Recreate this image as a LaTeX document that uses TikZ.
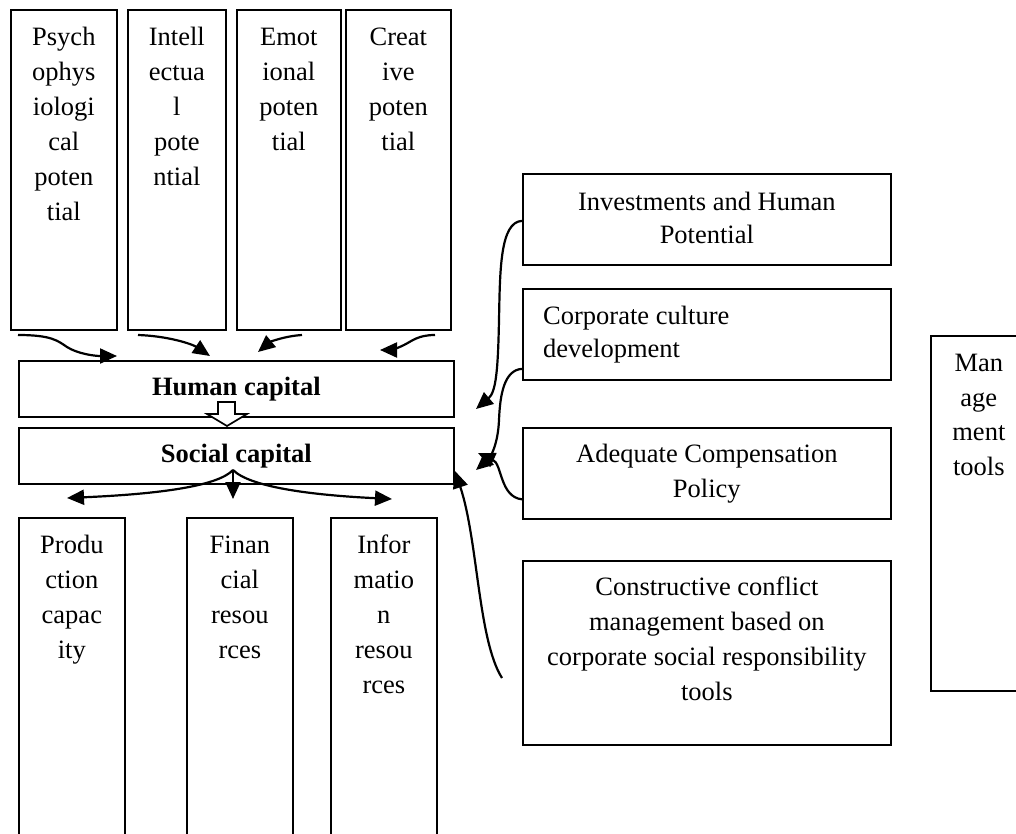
\documentclass[tikz,border=0pt]{standalone}
\usepackage{fontspec}
\setmainfont{Liberation Serif}
\usetikzlibrary{arrows.meta,calc}
\newcommand\myfirst{\rule{0pt}{24pt}}
\begin{document}
\begin{tikzpicture}[x=1pt,y=-1pt,
 box/.style={draw, line width=1.7pt, inner sep=0pt, anchor=north west},
 txt/.style={inner sep=0pt, align=center, anchor=north, font=\fontsize{26.5}{35}\selectfont},
 txtb/.style={inner sep=0pt, align=center, font=\fontsize{26.5}{35}\selectfont\bfseries},
 con/.style={line width=2.2pt, -{Triangle[length=17pt,width=15pt]}},
]
\useasboundingbox (0,0) rectangle (1016,834);
\clip (0,0) rectangle (1016,834);
% top boxes
\node[box, minimum width=106pt, minimum height=320pt] (p1) at (10,9) {};
\node[box, minimum width=98pt, minimum height=320pt] (p2) at (127,9) {};
\node[box, minimum width=104pt, minimum height=320pt] (p3) at (236,9) {};
\node[box, minimum width=105pt, minimum height=320pt] (p4) at (345,9) {};
\node[txt] (p1t) at ($(p1.north)+(0,12)$) {\myfirst Psych\\ophys\\iologi\\cal\\poten\\tial};
\node[txt] (p2t) at ($(p2.north)+(0,12)$) {\myfirst Intell\\ectua\\l\\pote\\ntial};
\node[txt] (p3t) at ($(p3.north)+(0,12)$) {\myfirst Emot\\ional\\poten\\tial};
\node[txt] (p4t) at ($(p4.north)+(0,12)$) {\myfirst Creat\\ive\\poten\\tial};
% capital boxes
\node[box, minimum width=435pt, minimum height=56pt] (hum) at (18,360) {};
\node[txtb] (humt) at (hum.center) {Human capital};
\node[box, minimum width=435pt, minimum height=56pt] (soc) at (18,427) {};
\node[txtb] (soct) at (soc.center) {Social capital};
% bottom boxes
\node[box, minimum width=106pt, minimum height=330pt] (b1) at (18,517) {};
\node[box, minimum width=106pt, minimum height=330pt] (b2) at (186,517) {};
\node[box, minimum width=106pt, minimum height=330pt] (b3) at (330,517) {};
\node[txt] (b1t) at ($(b1.north)+(0,12)$) {\myfirst Produ\\ction\\capac\\ity};
\node[txt] (b2t) at ($(b2.north)+(0,12)$) {\myfirst Finan\\cial\\resou\\rces};
\node[txt] (b3t) at ($(b3.north)+(0,12)$) {\myfirst Infor\\matio\\n\\resou\\rces};
% right boxes
\node[box, minimum width=368pt, minimum height=91pt] (inv) at (522,173) {};
\node[box, minimum width=368pt, minimum height=91pt] (cor) at (522,288) {};
\node[box, minimum width=368pt, minimum height=91pt] (ade) at (522,427) {};
\node[box, minimum width=368pt, minimum height=184pt] (cns) at (522,560) {};
\node[txt, font=\fontsize{26.5}{33}\selectfont] (invt) at ($(inv.north)+(0,13)$) {\myfirst Investments and Human\\Potential};
\node[txt, anchor=north west, align=left, font=\fontsize{26.5}{33}\selectfont] (cort) at ($(cor.north west)+(21,12)$) {\myfirst Corporate culture\\development};
\node[txt] (adet) at ($(ade.north)+(0,11)$) {\myfirst Adequate Compensation\\Policy};
\node[txt] (cnst) at ($(cns.north)+(0,11)$) {\myfirst Constructive conflict\\management based on\\corporate social responsibility\\tools};
% management tools
\node[box, minimum width=96pt, minimum height=355pt] (mgt) at (930,335) {};
\node[txt, font=\fontsize{26.5}{34.5}\selectfont] (mgtt) at ($(mgt.north)+(0,12.5)$) {\myfirst Man\\age\\ment\\tools};
% arrows into human capital
\coordinate (a1s) at (18,335);   \coordinate (a1e) at (117,356);
\coordinate (a2s) at (138,335);  \coordinate (a2e) at (210,356);
\coordinate (a3s) at (302,335);  \coordinate (a3e) at (258,352);
\coordinate (a4s) at (435,335);  \coordinate (a4e) at (380,350);
\draw[con] (a1s) .. controls (52,335) and (58,341) .. (67,347) .. controls (78,354) and (95,356) .. (a1e);
\draw[con] (a2s) .. controls (168,336) and (192,344) .. (a2e);
\draw[con] (a3s) .. controls (285,336) and (270,342) .. (a3e);
\draw[con] (a4s) .. controls (418,335) and (412,341) .. (404,345) .. controls (396,349) and (390,350) .. (a4e);
% hollow arrow human -> social
\draw[line width=1.7pt, fill=white] (218,402) -- (235,402) -- (235,414) -- (247,414) -- (227,426) -- (207,414) -- (218,414) -- cycle;
% arrows from social capital
\coordinate (s0) at (233,470);
\coordinate (o1) at (67,498);
\coordinate (o2) at (233,499);
\coordinate (o3) at (392,499);
\draw[con] (s0) .. controls (218,486) and (160,494) .. (o1);
\draw[con] (s0) -- (o2);
\draw[con] (s0) .. controls (250,487) and (310,495) .. (o3);
% arrows from the right-hand boxes
\coordinate (r1e) at (476,409);
\coordinate (r2e) at (476,470);
\coordinate (r3e) at (478,453);
\coordinate (r4s) at (502,678);
\coordinate (r4e) at (455,471);
\draw[con] ($(inv.west)+(0,1.5)$) .. controls (500,222) and (500,270) .. (499,320) .. controls (498,370) and (496,392) .. (r1e);
\draw[con] ($(cor.west)+(0,34.5)$) .. controls (504,370) and (500,395) .. (499,420) .. controls (498,445) and (490,458) .. (r2e);
\draw[con] ($(ade.west)+(0,26)$) .. controls (500,497) and (502,464) .. (r3e);
\draw[con] (r4s) .. controls (478,640) and (478,540) .. (r4e);
\end{tikzpicture}
\end{document}
